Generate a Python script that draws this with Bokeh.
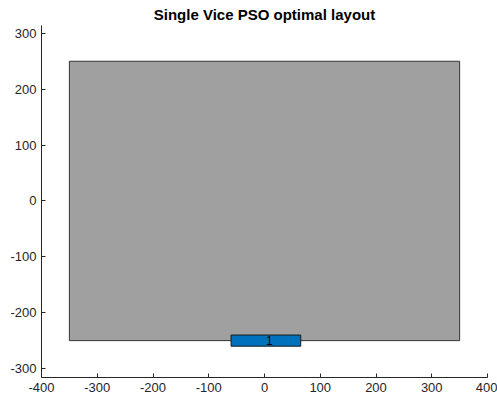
from bokeh.plotting import figure
from bokeh.models import Range1d, FixedTicker, CustomJSTickFormatter
from bokeh.embed import file_html
from bokeh.resources import INLINE
from bokeh.core.properties import value

# Layout area (workspace)
area_x = [-350, 350, 350, -350]
area_y = [-250, -250, 250, 250]

# Vice rectangles
vice_ids = ["1"]
vice_left = [-60]
vice_right = [65]
vice_bottom = [-260]
vice_top = [-240]
vice_cx = [(l + r) / 2 for l, r in zip(vice_left, vice_right)]
vice_cy = [(b + t) / 2 for b, t in zip(vice_bottom, vice_top)]

x_ticks = [-400, -300, -200, -100, 0, 100, 200, 300, 400]
y_ticks = [-300, -200, -100, 0, 100, 200, 300]

p = figure(width=497, height=407, output_backend="svg", toolbar_location=None,
           x_range=Range1d(-400, 400), y_range=Range1d(-316, 314),
           title="Single Vice PSO optimal layout",
           min_border_left=41, min_border_right=10, min_border_top=25, min_border_bottom=30)

p.patch(area_x, area_y, fill_color="#a0a0a0", line_color="#333333", line_width=1)
p.quad(left=vice_left, right=vice_right, bottom=vice_bottom, top=vice_top,
       fill_color="#0072BD", line_color="#1a1a1a", line_width=1)
p.text(x=vice_cx, y=vice_cy, text=vice_ids, text_align="left", text_baseline="middle",
       text_font=value("Liberation Sans"), text_font_size="12px", text_color="#000000")

p.title.align = "center"
p.title.text_font = "Liberation Sans"
p.title.text_font_size = "15px"
p.title.text_font_style = "bold"
p.title.text_color = "#000000"
p.title.standoff = 5
p.title.offset = 0

p.grid.visible = False
p.outline_line_color = None
p.background_fill_color = "white"
p.border_fill_color = "white"

fmt = "return tick.toString();"
for ax in (p.xaxis[0], p.yaxis[0]):
    ax.axis_line_color = "#262626"
    ax.major_tick_line_color = "#262626"
    ax.major_tick_in = 4
    ax.major_tick_out = 0
    ax.minor_tick_line_color = None
    ax.major_label_text_font = "Liberation Sans"
    ax.major_label_text_font_size = "13px"
    ax.major_label_text_color = "#262626"
    ax.major_label_standoff = 5
    ax.formatter = CustomJSTickFormatter(code=fmt)

p.xaxis[0].ticker = FixedTicker(ticks=x_ticks)
p.yaxis[0].ticker = FixedTicker(ticks=y_ticks)

open("out.html", "w").write(file_html(p, INLINE))
